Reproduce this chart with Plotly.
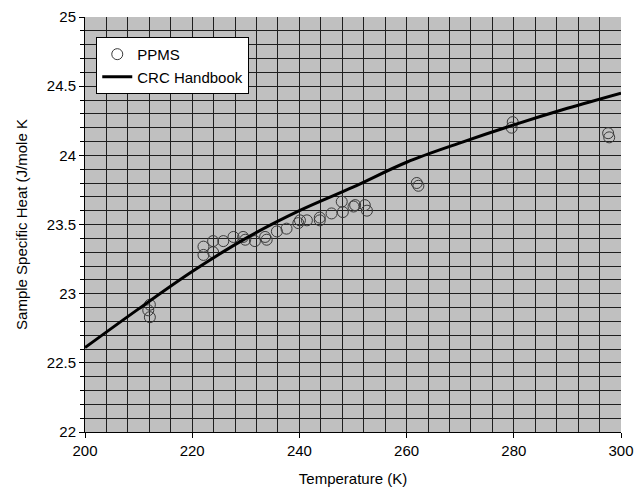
import plotly.graph_objects as go

# PPMS measured data
ppms_T = [211.8, 212.1, 212.1, 222.1, 222.1, 223.9, 223.9, 225.8, 227.7, 229.5, 229.9,
          231.7, 233.9, 233.6, 235.8, 237.6, 239.8, 240.1, 241.4, 243.8, 243.8, 246.0,
          247.9, 248.1, 250.1, 250.4, 252.2, 252.6, 261.9, 262.2, 279.6, 279.8, 297.6, 297.8]
ppms_C = [22.88, 22.92, 22.83, 23.34, 23.28, 23.38, 23.30, 23.38, 23.41, 23.41, 23.39,
          23.38, 23.39, 23.41, 23.45, 23.47, 23.51, 23.53, 23.53, 23.53, 23.55, 23.58,
          23.665, 23.59, 23.63, 23.64, 23.64, 23.60, 23.80, 23.78, 24.20, 24.24, 24.16, 24.13]

# CRC Handbook reference curve
crc_T = [200, 210, 220, 230, 240, 250, 260, 270, 280, 290, 300]
crc_C = [22.61, 22.89, 23.16, 23.40, 23.60, 23.77, 23.95, 24.09, 24.22, 24.34, 24.45]

x_ticks = [200, 220, 240, 260, 280, 300]
y_ticks = [22, 22.5, 23, 23.5, 24, 24.5, 25]

font = "Liberation Sans, Arial, sans-serif"
grid = "#1e1e1e"

fig = go.Figure()
fig.add_trace(go.Scatter(
    x=ppms_T, y=ppms_C, mode="markers", name="PPMS", legendgroup="a",
    marker=dict(symbol="circle-open", size=11, color="#3a3a3a", line=dict(width=1, color="#3a3a3a")),
))
fig.add_trace(go.Scatter(
    x=crc_T, y=crc_C, mode="lines", name="CRC Handbook", legendgroup="b",
    line=dict(color="black", width=3, shape="spline"),
))

fig.update_layout(
    width=637, height=494,
    margin=dict(l=85, r=16, t=17, b=62),
    paper_bgcolor="white",
    plot_bgcolor="#c0c0c0",
    font=dict(family=font, size=15, color="black"),
    showlegend=True,
    legend=dict(
        x=0.021, y=0.952, xanchor="left", yanchor="top",
        bgcolor="white", bordercolor="black", borderwidth=1,
        font=dict(size=15, family=font), itemsizing="trace",
        tracegroupgap=0,
    ),
    xaxis=dict(
        range=[200, 300], tickvals=x_ticks, ticktext=[str(v) for v in x_ticks],
        showgrid=True, gridcolor=grid, gridwidth=1.2,
        minor=dict(dtick=4, showgrid=True, gridcolor=grid, gridwidth=1.2, ticks=""),
        showline=True, linecolor="black", linewidth=1,
        ticks="outside", ticklen=5, tickcolor="black",
        zeroline=False, automargin=False, ticklabeloverflow="allow",
        title=dict(text="Temperature (K)", font=dict(size=15)),
    ),
    yaxis=dict(
        range=[22, 25], tickvals=y_ticks, ticktext=["22", "22.5", "23", "23.5", "24", "24.5", "25"],
        showgrid=True, gridcolor=grid, gridwidth=1.2,
        minor=dict(dtick=0.1, showgrid=True, gridcolor=grid, gridwidth=1.2,
                   ticks="outside", ticklen=4, tickcolor="black"),
        showline=True, linecolor="black", linewidth=1,
        ticks="outside", ticklen=5, tickcolor="black",
        zeroline=False, automargin=False, ticklabeloverflow="allow",
        title=dict(text="Sample Specific Heat (J/mole K", font=dict(size=15)),
    ),
)

# remove the default page margin so the 637x494 figure fills the window exactly
fig.write_html(
    "out.html",
    config={"displayModeBar": False},
    post_script="document.body.style.margin='0';document.body.style.overflow='hidden';",
)
